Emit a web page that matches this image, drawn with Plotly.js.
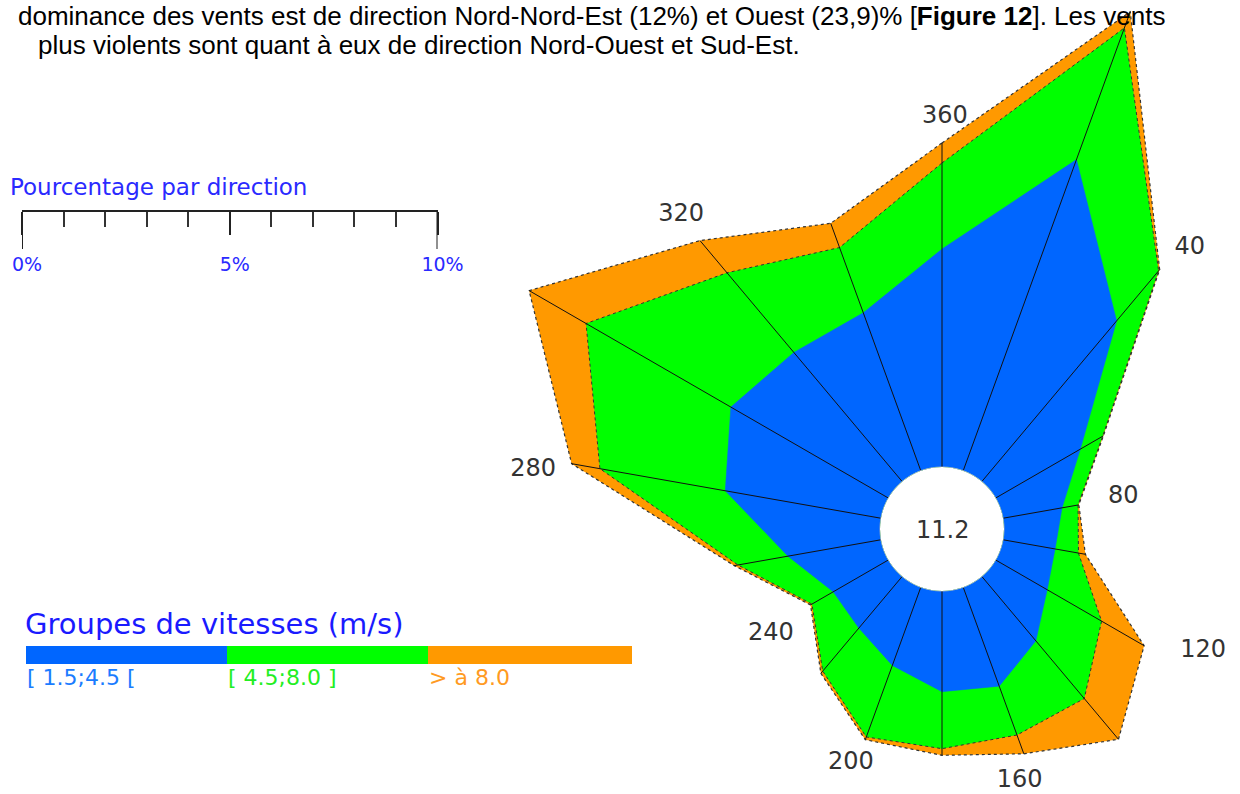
<!DOCTYPE html>
<html>
<head>
<meta charset="utf-8">
<script src="https://cdn.plot.ly/plotly-3.0.1.min.js"></script>
<style>
html,body{margin:0;padding:0;background:#fff;overflow:hidden;width:1240px;height:794px}
#chart{position:absolute;left:0;top:-41px;width:1512px;height:1140px}
</style>
</head>
<body>
<div id="chart"></div>
<script>
// ---------------- DATA ----------------
const directions = [0,20,40,60,80,100,120,140,160,180,200,220,240,260,280,300,320,340];
const speedClasses = ['[ 1.5;4.5 [', '[ 4.5;8.0 ]', '> à 8.0'];
// % of time per direction for each wind-speed class
const pctLow  = [5.24,7.96,5.04,2.35,1.44,1.27,1.43,2.02,2.53,2.42,2.00,1.62,1.53,2.27,3.80,4.37,4.05,4.04];
const pctMid  = [2.07,3.37,1.57,0.62,0.39,0.57,1.51,1.81,1.25,1.37,1.83,1.35,0.59,1.22,3.06,4.02,2.50,1.67];
const pctHigh = [0.48,0.41,0.04,0.02,0.02,0.17,1.18,1.28,0.48,0.16,0.07,0.07,0.04,0.09,0.69,1.58,1.01,0.62];
const calmPct = 11.2;
const labelDirections = [0,40,80,120,160,200,240,280,320];
const labelTexts = ['360','40','80','120','160','200','240','280','320'];
const scaleTickVals = [0,5,10];
const scaleTickText = ['0%','5%','10%'];
const scaleMinorVals = [1,2,3,4,6,7,8,9];
const paragraphLine1 = 'dominance des vents est de direction Nord-Nord-Est (12%) et Ouest (23,9)% [<b>Figure 12</b>]. Les vents';
const paragraphLine2 = 'plus violents sont quant à eux de direction Nord-Ouest et Sud-Est.';

// ---------------- GEOMETRY / STYLE ----------------
// The plotting div is larger than the 1240x794 window so that the rose's
// long petals fit inside the polar frame; page px are converted below.
const WD = 1512, HD = 1140, divTop = -41;
const cx = 942, cy = 529;      // rose centre (page px)
const R = 570;                 // polar frame radius (px)
const holePx = 62;             // calm circle radius (px)
const pxPerPct = 41.6;         // same as the scale bar
const colLow = '#0066ff', colMid = '#00ff00', colHigh = '#ff9900';
const labelPadPx = [26,36,45,55,24,27,49,37,32];
const labelThetaShift = [0.4,1.4,0,-4.9,2.85,1.25,-1.55,-1.8,0.3];
const px = v => v / WD;                      // page x -> paper x
const py = v => (HD - (v - divTop)) / HD;    // page y -> paper y

// cumulative values
const cumLow = pctLow.slice();
const cumMid = pctLow.map((v,i)=>v+pctMid[i]);
const cumHigh = cumMid.map((v,i)=>v+pctHigh[i]);
const close = a => a.concat([a[0]]);
const thetaClosed = close(directions);

const polyTrace = (r, fill, lineColor, dash, w) => ({
  type:'scatterpolar', mode:'lines', r: close(r), theta: thetaClosed,
  fill:'toself', fillcolor: fill,
  line:{color: lineColor, width: w, dash: dash},
  hoverinfo:'skip', showlegend:false
});

const spokeR = [], spokeT = [];
directions.forEach((d,i)=>{ spokeR.push(0, cumHigh[i], null); spokeT.push(d, d, null); });

const circT = []; for (let a=0; a<=360; a+=3) circT.push(a);
const circR = circT.map(()=>0);

const labR = labelDirections.map((d,k)=> cumHigh[directions.indexOf(d)] + labelPadPx[k]/pxPerPct);
const labT = labelDirections.map((d,k)=> d + labelThetaShift[k]);

const traces = [
  polyTrace(cumHigh, colHigh, '#333', 'dot', 1.2),
  polyTrace(cumMid, colMid, '#333', 'dot', 1),
  polyTrace(cumLow, colLow, colLow, 'solid', 0.5),
  {type:'scatterpolar', mode:'lines', r: spokeR, theta: spokeT, connectgaps:false,
   line:{color:'#111', width:1}, hoverinfo:'skip', showlegend:false},
  {type:'scatterpolar', mode:'lines', r: circR, theta: circT, fill:'toself', fillcolor:'#ffffff',
   line:{color:'#bbbbbb', width:0.8}, hoverinfo:'skip', showlegend:false},
  {type:'scatterpolar', mode:'text', r: labR, theta: labT, text: labelTexts,
   textfont:{family:'DejaVu Sans', size:24, color:'#333'}, textposition:'middle center',
   hoverinfo:'skip', showlegend:false}
];

const legendY0 = 646, legendY1 = 664;
const legendX = [26, 227, 428, 632];
const legendCols = [colLow, colMid, colHigh];
const legendTextCols = ['#1a7cff', '#22ee22', '#ff9a22'];

const shapes = [];
legendCols.forEach((c,i)=>{
  shapes.push({type:'rect', xref:'paper', yref:'paper', x0:px(legendX[i]), x1:px(legendX[i+1]),
    y0:py(legendY1), y1:py(legendY0), fillcolor:c, line:{width:0}, layer:'above'});
});
// long end ticks of the percentage scale
[0,10].forEach(v=>{
  shapes.push({type:'line', xref:'x', yref:'paper', x0:v, x1:v, y0:py(210), y1:py(249),
    line:{color:'#222', width:2}});
});

const annotations = [
  {text: paragraphLine1, xref:'paper', yref:'paper', x:px(16), y:py(16), xanchor:'left', yanchor:'middle',
   showarrow:false, font:{family:'Liberation Sans', size:26, color:'#000'}},
  {text: paragraphLine2, xref:'paper', yref:'paper', x:px(36), y:py(45), xanchor:'left', yanchor:'middle',
   showarrow:false, font:{family:'Liberation Sans', size:26, color:'#000'}},
  {text:'Pourcentage par direction', xref:'paper', yref:'paper', x:px(8), y:py(187), xanchor:'left', yanchor:'middle',
   showarrow:false, font:{family:'DejaVu Sans', size:23, color:'#2a2aff'}},
  {text:'Groupes de vitesses (m/s)', xref:'paper', yref:'paper', x:px(23), y:py(624), xanchor:'left', yanchor:'middle',
   showarrow:false, font:{family:'DejaVu Sans', size:29, color:'#1a1aff'}},
  {text: String(calmPct), xref:'paper', yref:'paper', x:px(cx), y:py(cy+1), xanchor:'center', yanchor:'middle',
   showarrow:false, font:{family:'DejaVu Sans', size:24, color:'#333'}}
];
speedClasses.forEach((s,i)=>{
  annotations.push({text:s, xref:'paper', yref:'paper', x:px(legendX[i]-1), y:py(677), xanchor:'left', yanchor:'middle',
    showarrow:false, font:{family:'DejaVu Sans', size:22, color:legendTextCols[i]}});
});

const layout = {
  width: WD, height: HD,
  margin:{l:0,r:0,t:0,b:0},
  paper_bgcolor:'#fff', plot_bgcolor:'rgba(0,0,0,0)',
  showlegend:false,
  polar:{
    domain:{x:[px(cx-R), px(cx+R)], y:[py(cy+R), py(cy-R)]},
    hole: holePx/R,
    bgcolor:'rgba(0,0,0,0)',
    radialaxis:{range:[0,(R-holePx)/pxPerPct], visible:false, showgrid:false},
    angularaxis:{rotation:90, direction:'clockwise', visible:false, showgrid:false, showline:false, ticks:''}
  },
  xaxis:{domain:[px(22), px(437.5)], range:[0,10], anchor:'y', showgrid:false, zeroline:false,
    showline:true, linecolor:'#222', linewidth:2, ticks:'outside', ticklen:23, tickwidth:2, tickcolor:'#222',
    tickvals:scaleTickVals, ticktext:scaleTickText, ticklabelstandoff:13, ticklabelshift:5,
    tickfont:{family:'DejaVu Sans', size:19, color:'#2a2aff'},
    minor:{tickvals:scaleMinorVals, ticks:'outside', ticklen:15, tickwidth:2, tickcolor:'#333'},
    fixedrange:true},
  yaxis:{domain:[py(210), py(200)], range:[0,1], visible:false, fixedrange:true},
  shapes: shapes,
  annotations: annotations
};

Plotly.newPlot('chart', traces, layout, {displayModeBar:false, staticPlot:true});
</script>
</body>
</html>
